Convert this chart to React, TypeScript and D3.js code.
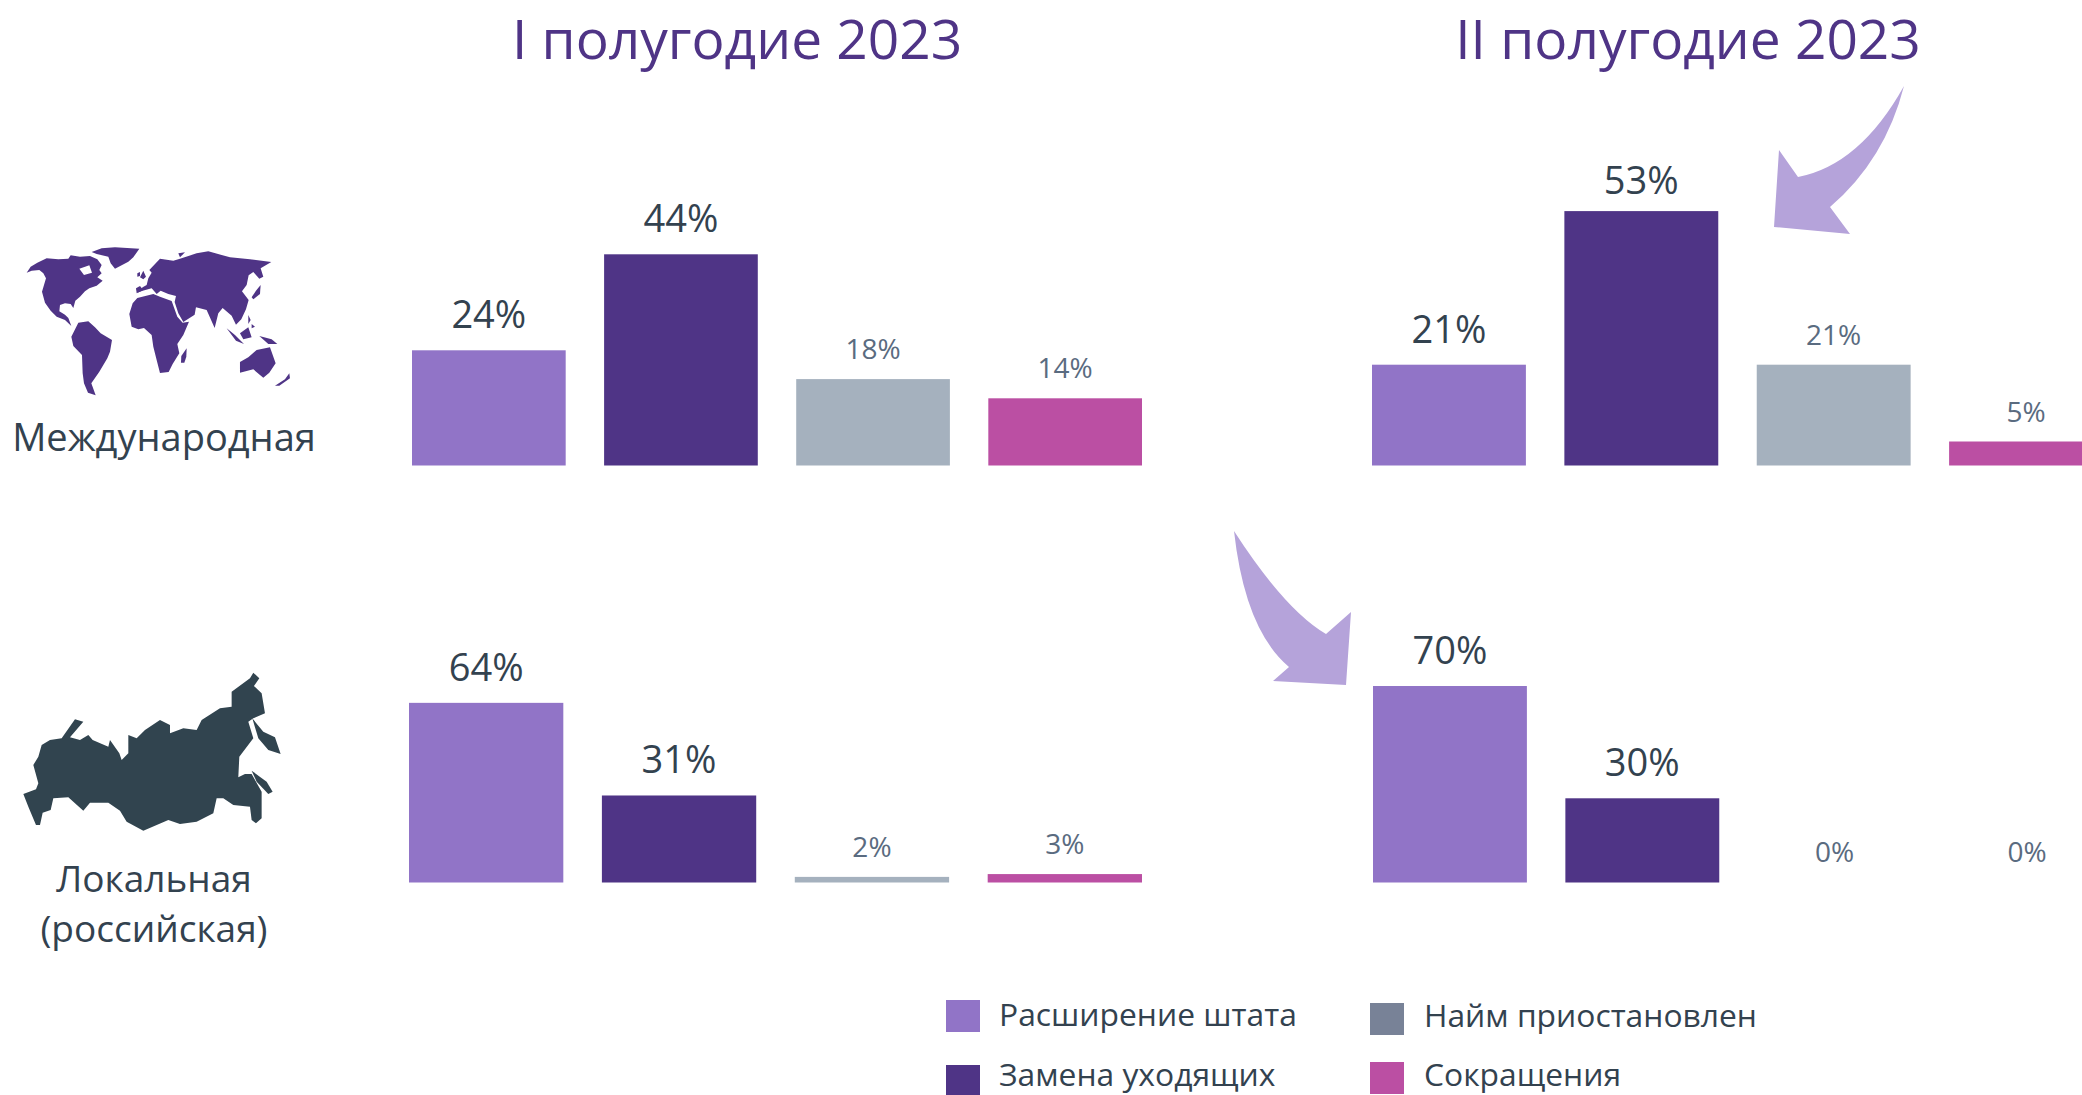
import React from "react";
import * as d3 from "d3";

const categories = ["Расширение штата", "Замена уходящих", "Найм приостановлен", "Сокращения"];
const periods = ["I полугодие 2023", "II полугодие 2023"];
const intlH1 = [24, 44, 18, 14];
const intlH2 = [21, 53, 21, 5];
const localH1 = [64, 31, 2, 3];
const localH2 = [70, 30, 0, 0];

const barColors = ["#9174c7", "#4f3486", "#a5b1be", "#bb4fa3"];
const legendColors = ["#9174c7", "#4f3486", "#788297", "#bb4fa3"];
const FONT = "'Open Sans', sans-serif";
const DARK = "#33424f";
const SMALL = "#5a6b80";

const yTop = d3.scaleLinear().domain([0, 100]).range([465.5, -14.5]);
const yBottom = d3.scaleLinear().domain([0, 100]).range([882.5, 601.8]);
const xScale = (x0: number, x1: number) =>
  d3.scaleBand<string>().domain(categories).range([x0, x1]).paddingInner(0.2).paddingOuter(0);

const panels = [
  { values: intlH1, x: xScale(412, 1142), y: yTop, gaps: [22, 22, 20, 20] },
  { values: intlH2, x: xScale(1372, 2103), y: yTop, gaps: [22, 17, 20, 20] },
  { values: localH1, x: xScale(409, 1142), y: yBottom, gaps: [22, 22, 20, 20] },
  { values: localH2, x: xScale(1373, 2104), y: yBottom, gaps: [22, 22, 21, 21] },
];

const legendItems = [
  { i: 0, sx: 946, sy: 1000, tx: 999, ty: 1026 },
  { i: 1, sx: 946, sy: 1065, tx: 999, ty: 1086 },
  { i: 2, sx: 1370, sy: 1003, tx: 1424, ty: 1027 },
  { i: 3, sx: 1370, sy: 1062, tx: 1424, ty: 1086 },
];

const worldShapes = [
  "M80,158 L92,140 L112,128 L140,115 L175,118 L205,116 L212,106 L240,110 L270,108 L292,118 L305,135 L298,150 L305,160 L292,172 L308,182 L290,197 L268,205 L255,214 L240,230 L226,242 L220,264 L212,252 L195,250 L180,255 L178,274 L195,284 L205,294 L214,318 L195,300 L170,290 L152,272 L135,248 L126,215 L138,175 L130,160 L118,150 L95,152 Z M238,146 L268,136 L276,158 L252,165 Z",
  "M275,96 L305,85 L345,82 L418,86 L400,112 L385,125 L345,146 L332,130 L325,110 L290,102 Z",
  "M214,350 L235,308 L265,304 L285,322 L302,340 L336,360 L330,395 L322,415 L298,455 L274,490 L287,526 L264,518 L252,490 L248,460 L246,405 L220,378 Z",
  "M388,282 L398,250 L412,234 L460,222 L480,230 L515,243 L532,290 L548,308 L567,305 L550,345 L532,372 L538,400 L518,432 L506,456 L480,459 L470,420 L460,380 L455,345 L432,324 L415,328 L395,320 Z",
  "M412,218 L428,202 L440,195 L445,175 L455,158 L448,150 L480,116 L520,122 L540,116 L590,100 L625,94 L690,112 L750,118 L814,126 L782,145 L790,170 L778,176 L760,156 L746,166 L740,195 L726,214 L746,240 L738,268 L724,298 L708,314 L695,287 L668,264 L655,280 L644,324 L620,270 L588,262 L584,284 L550,306 L535,280 L524,246 L528,228 L505,222 L482,212 L470,222 L455,205 L428,212 Z",
  "M720,426 L745,412 L770,390 L810,382 L827,430 L808,458 L790,473 L760,448 L720,458 Z",
  "M543,428 L544,408 L560,385 L559,410 L553,428 Z",
  "M420,172 L430,152 L438,170 L430,178 Z M412,160 L420,156 L420,168 L412,170 Z",
  "M535,100 L555,97 L540,112 Z",
  "M768,212 L782,195 L780,222 L760,238 L755,232 Z",
  "M680,325 L705,345 L732,372 L708,362 Z M720,340 L745,322 L755,352 L730,358 Z",
  "M778,348 L815,358 L832,372 L805,372 Z",
  "M745,285 L752,300 L745,312 Z M755,312 L765,320 L755,325 Z",
  "M825,497 L855,478 L868,460 L870,475 L838,497 Z",
  "M408,205 L420,198 L430,210 L410,220 Z",
];

const russiaShapes = [
  "M70,432 L85,470 L108,525 L120,525 L128,488 L152,480 L160,445 L205,442 L250,482 L270,458 L325,458 L360,482 L380,515 L430,542 L505,510 L540,522 L590,515 L640,490 L650,445 L670,445 L700,465 L750,470 L755,510 L768,520 L785,505 L785,425 L755,372 L735,372 L715,382 L718,320 L760,265 L745,215 L760,205 L795,190 L785,130 L762,108 L778,85 L760,68 L750,85 L695,125 L695,170 L660,175 L605,210 L590,240 L550,235 L510,250 L510,225 L480,210 L435,240 L410,265 L385,255 L385,310 L365,330 L358,310 L330,270 L325,290 L278,270 L265,255 L240,270 L210,262 L250,215 L225,208 L185,265 L150,270 L125,285 L115,320 L100,345 L115,400 L108,418 Z",
  "M757,205 L790,245 L825,262 L842,312 L805,300 L775,265 Z",
  "M755,362 L800,395 L818,425 L805,432 L770,395 Z",
];

// Arrow outlines in page pixels: tail, inner curve to shoulder, barb, tip, barb, shoulder, outer curve back.
const arrowShapes = [
  "M1904,86 Q1860,165 1798,177 L1779,150 L1774,227 L1850,234 L1830,207 Q1885,160 1904,86 Z",
  "M1234,531 Q1285,610 1326,634 L1351,612 L1346,685 L1273,681 L1289,667 Q1245,630 1234,531 Z",
];

export default function App() {
  return (
    <svg
      width={2082}
      height={1095}
      viewBox="0 0 2082 1095"
      style={{ position: "absolute", left: 0, top: 0, display: "block", background: "#fff" }}
      fontFamily={FONT}
    >
      {periods.map((p, i) => (
        <text key={p} x={i === 0 ? 737 : 1688} y={59} fontSize={55} fill="#4f3486" textAnchor="middle" fontFamily={FONT}>
          {p}
        </text>
      ))}

      {panels.map((panel, pi) => (
        <g key={pi}>
          {categories.map((c, i) => {
            const v = panel.values[i];
            const x = panel.x(c)!;
            const w = panel.x.bandwidth();
            const yy = panel.y(v);
            const big = i < 2;
            return (
              <g key={c}>
                {v > 0 && <rect x={x} y={yy} width={w} height={panel.y(0) - yy} fill={barColors[i]} />}
                <text
                  x={x + w / 2}
                  y={yy - panel.gaps[i]}
                  textAnchor="middle"
                  fontSize={big ? 38 : 28}
                  fill={big ? DARK : SMALL}
                >
                  {v}%
                </text>
              </g>
            );
          })}
        </g>
      ))}

      {arrowShapes.map((d) => (
        <path key={d} d={d} fill="#b5a3da" />
      ))}

      <g transform="translate(0,220) scale(0.3333)" fill="#4f3486">
        {worldShapes.map((d) => (
          <path key={d} d={d} fillRule="evenodd" />
        ))}
      </g>
      <g transform="translate(0,650) scale(0.3333)" fill="#31444f">
        {russiaShapes.map((d) => (
          <path key={d} d={d} />
        ))}
      </g>

      <text x={164} y={451} fontSize={38} textAnchor="middle" fill={DARK}>Международная</text>
      <text x={154} y={892} fontSize={37} textAnchor="middle" fill={DARK}>Локальная</text>
      <text x={154} y={942} fontSize={37} textAnchor="middle" fill={DARK}>(российская)</text>

      {legendItems.map(({ i, sx, sy, tx, ty }) => (
        <g key={i}>
          <rect x={sx} y={sy} width={34} height={32} fill={legendColors[i]} />
          <text x={tx} y={ty} fontSize={31.8} fill={DARK}>{categories[i]}</text>
        </g>
      ))}
    </svg>
  );
}
